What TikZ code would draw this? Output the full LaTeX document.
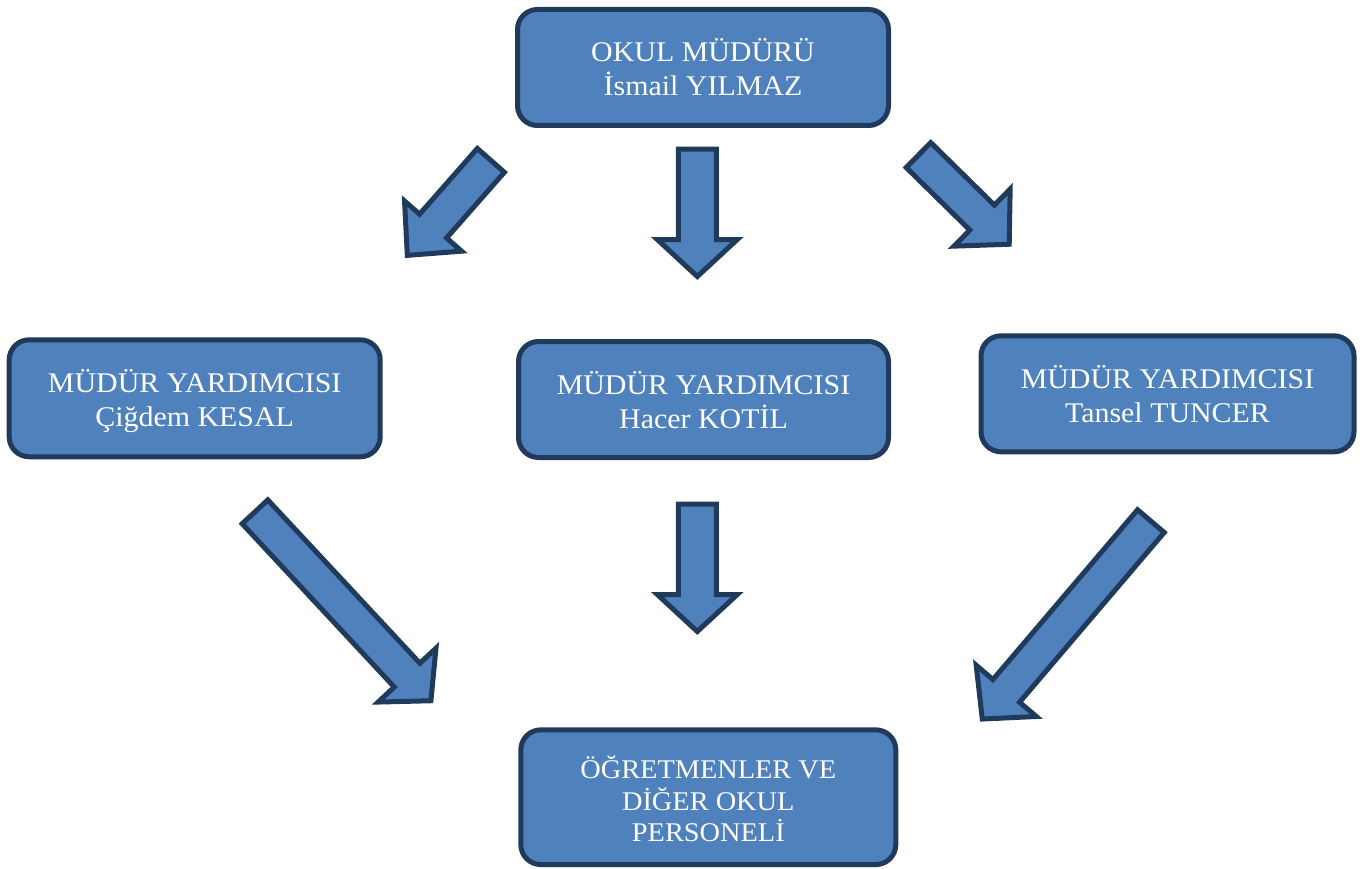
\documentclass[tikz,border=0pt]{standalone}
\usepackage{fontspec}
\setmainfont{Liberation Serif}[FakeStretch=1.05]
\usetikzlibrary{calc}
\definecolor{boxblue}{HTML}{4F81BD}
\definecolor{navy}{HTML}{203A5C}
\newcommand\firstln{\rule{0pt}{30pt}}
\newcommand\lastln{\rule[-7pt]{0pt}{7pt}}
\newcommand\blockarrow[5]{%
  \coordinate (ta) at ($(#1)!2.5pt!(#2)$);
  \coordinate (tb) at ($(#2)!3.5pt!(#1)$);
  \coordinate (hb) at ($(tb)!#5!(ta)$);
  \draw[barrow] ($(ta)!#3!90:(tb)$) -- ($(hb)!#3!90:(tb)$) -- ($(hb)!#4!90:(tb)$)
    -- (tb) -- ($(hb)!#4!-90:(tb)$) -- ($(hb)!#3!-90:(tb)$) -- ($(ta)!#3!-90:(tb)$) -- cycle;
}
\begin{document}
\begin{tikzpicture}[x=1pt,y=-1pt,
  box/.style={draw=navy, fill=boxblue, line width=5pt, rounded corners=20pt,
    minimum width=371pt, minimum height=117pt, inner sep=0pt, text=white, align=center,
    font=\fontsize{28.5}{34}\selectfont},
  barrow/.style={draw=navy, fill=boxblue, line width=5pt, line join=miter}]
\useasboundingbox (0,0) rectangle (1370,869);
\node[box, minimum height=116pt] (top) at (703,67.5) {\firstln OKUL MÜDÜRÜ\\İsmail YILMAZ\lastln};
\node[box] (vl) at (194.7,398.3) {\firstln MÜDÜR YARDIMCISI\\Çiğdem KESAL\lastln};
\node[box, minimum width=370pt, minimum height=116pt] (vc) at (703.5,399.5) {\firstln MÜDÜR YARDIMCISI\\Hacer KOTİL\lastln};
\node[box, minimum width=373pt, minimum height=116pt] (vr) at (1167.5,393.8) {\firstln MÜDÜR YARDIMCISI\\Tansel TUNCER\lastln};
\node[box, minimum width=375pt, minimum height=134.7pt, font=\fontsize{27}{31.7}\selectfont] (bot) at (708.3,797.2)
  {\rule{0pt}{33pt}ÖĞRETMENLER VE\\DİĞER OKUL\\PERSONELİ\lastln};
% arrow end points
\coordinate (a1t) at (492.5,158.5);  \coordinate (a1h) at (405,258);
\coordinate (a2t) at (697.3,146.7);  \coordinate (a2h) at (697.3,280);
\coordinate (a3t) at (916.7,153.3);  \coordinate (a3h) at (1011.7,246.7);
\coordinate (a4t) at (253.3,510);    \coordinate (a4h) at (433.3,703.3);
\coordinate (a5t) at (697.3,501.7);  \coordinate (a5h) at (697.3,635);
\coordinate (a6t) at (1152.5,519.2); \coordinate (a6h) at (980,721.7);
\blockarrow{a1t}{a1h}{18pt}{38pt}{39pt}
\blockarrow{a2t}{a2h}{19pt}{40pt}{37pt}
\blockarrow{a3t}{a3h}{17.5pt}{40pt}{38pt}
\blockarrow{a4t}{a4h}{17.5pt}{39.5pt}{35pt}
\blockarrow{a5t}{a5h}{19pt}{40pt}{37pt}
\blockarrow{a6t}{a6h}{17.5pt}{39.5pt}{37pt}
\end{tikzpicture}
\end{document}
